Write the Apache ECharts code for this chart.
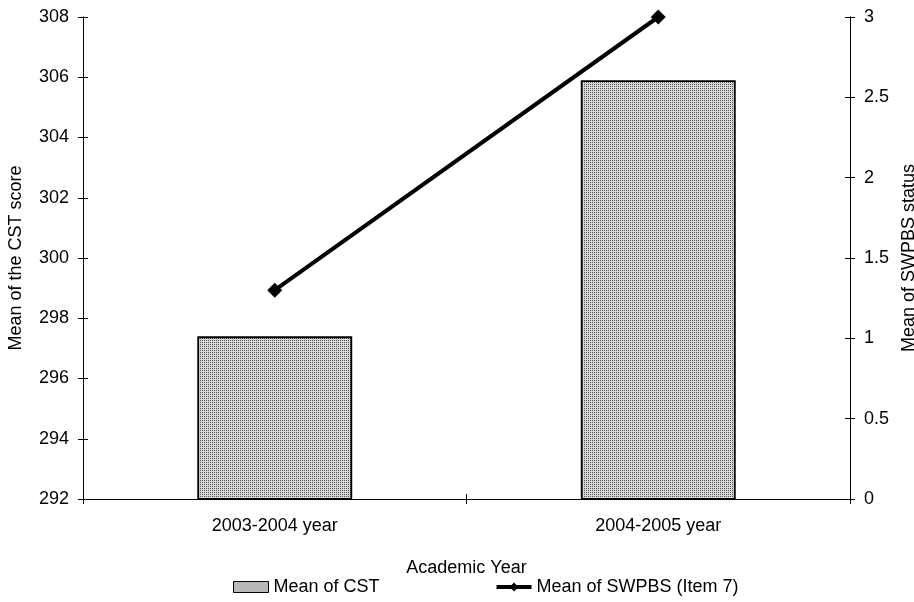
<!DOCTYPE html>
<html>
<head>
<meta charset="utf-8">
<script src="https://cdn.jsdelivr.net/npm/echarts@6/dist/echarts.min.js"></script>
<style>
  html, body { margin: 0; padding: 0; background: #fff; }
  #chart { width: 914px; height: 602px; }
</style>
</head>
<body>
<div id="chart"></div>
<script>
// Academic years and the two measured means
var years = ['2003-2004 year', '2004-2005 year'];
var cstMeans = [297.4, 305.9];
var swpbsMeans = [1.3, 3.0];

// Stippled tile used to fill the CST bars
function stipple() {
  var c = document.createElement('canvas');
  c.width = 2; c.height = 2;
  var g = c.getContext('2d');
  g.fillStyle = '#d9d9d9';
  g.fillRect(0, 0, 2, 2);
  g.fillStyle = '#555555';
  g.fillRect(0, 0, 1, 1);
  return c;
}
var fill = { image: stipple(), repeat: 'repeat' };

var font = 'Liberation Sans, Arial, sans-serif';
var txt = { color: '#000', fontFamily: font, fontSize: 18 };
var gridBox = { left: 83, right: 64, top: 17, bottom: 103, outerBoundsMode: 'none', containLabel: false };

function valueAxis(gridIndex, pos, min, max, step, name, gap, inside, visible) {
  return {
    type: 'value', gridIndex: gridIndex, position: pos, min: min, max: max, interval: step,
    name: visible ? name : '', nameLocation: 'middle', nameGap: gap,
    nameTextStyle: txt,
    axisLine: { show: true, lineStyle: { color: '#000', width: 1 } },
    axisTick: { show: true, inside: inside, length: 5, lineStyle: { color: '#000', width: 1 } },
    axisLabel: Object.assign({ show: visible, margin: 14 }, txt),
    splitLine: { show: false }
  };
}

function categoryAxis(gridIndex, inside, visible) {
  return {
    type: 'category', gridIndex: gridIndex, data: years, boundaryGap: true,
    name: visible ? 'Academic Year' : '', nameLocation: 'middle', nameGap: 60, nameTextStyle: txt,
    axisLine: { show: true, lineStyle: { color: '#000' } },
    axisTick: { show: true, inside: inside, length: 5, lineStyle: { color: '#000', width: 1 } },
    axisLabel: Object.assign({ show: visible, margin: 18 }, txt)
  };
}

var chart = echarts.init(document.getElementById('chart'));
chart.setOption({
  animation: false,
  // second grid overlays the first to carry the inward half of each tick
  grid: [gridBox, Object.assign({}, gridBox)],
  legend: {
    top: 573, left: 228, itemGap: 115, itemWidth: 35, itemHeight: 11,
    textStyle: txt,
    data: [
      { name: 'Mean of CST', icon: 'rect', itemStyle: { color: fill, borderColor: '#000', borderWidth: 1 } },
      { name: 'Mean of SWPBS (Item 7)', lineStyle: { color: '#000', width: 4 }, itemStyle: { color: '#000' } }
    ]
  },
  xAxis: [categoryAxis(0, false, true), categoryAxis(1, true, false)],
  yAxis: [
    valueAxis(0, 'left', 292, 308, 2, 'Mean of the CST score', 58, false, true),
    valueAxis(0, 'right', 0, 3, 0.5, 'Mean of SWPBS status', 47, false, true),
    valueAxis(1, 'left', 292, 308, 2, '', 0, true, false),
    valueAxis(1, 'right', 0, 3, 0.5, '', 0, true, false)
  ],
  series: [{
    name: 'Mean of CST', type: 'bar', xAxisIndex: 0, yAxisIndex: 0,
    data: cstMeans, barWidth: '40.4%',
    itemStyle: { color: fill, borderColor: '#000', borderWidth: 1.8 }
  }, {
    name: 'Mean of SWPBS (Item 7)', type: 'line', xAxisIndex: 0, yAxisIndex: 1,
    data: swpbsMeans, symbol: 'diamond', symbolSize: 15,
    lineStyle: { color: '#000', width: 4 },
    itemStyle: { color: '#000' }
  }, {
    // empty series that keep the overlay grid's axes active
    name: 'ticksLeft', type: 'line', xAxisIndex: 1, yAxisIndex: 2,
    data: [null, null], silent: true, showSymbol: false
  }, {
    name: 'ticksRight', type: 'line', xAxisIndex: 1, yAxisIndex: 3,
    data: [null, null], silent: true, showSymbol: false
  }]
});
</script>
</body>
</html>
